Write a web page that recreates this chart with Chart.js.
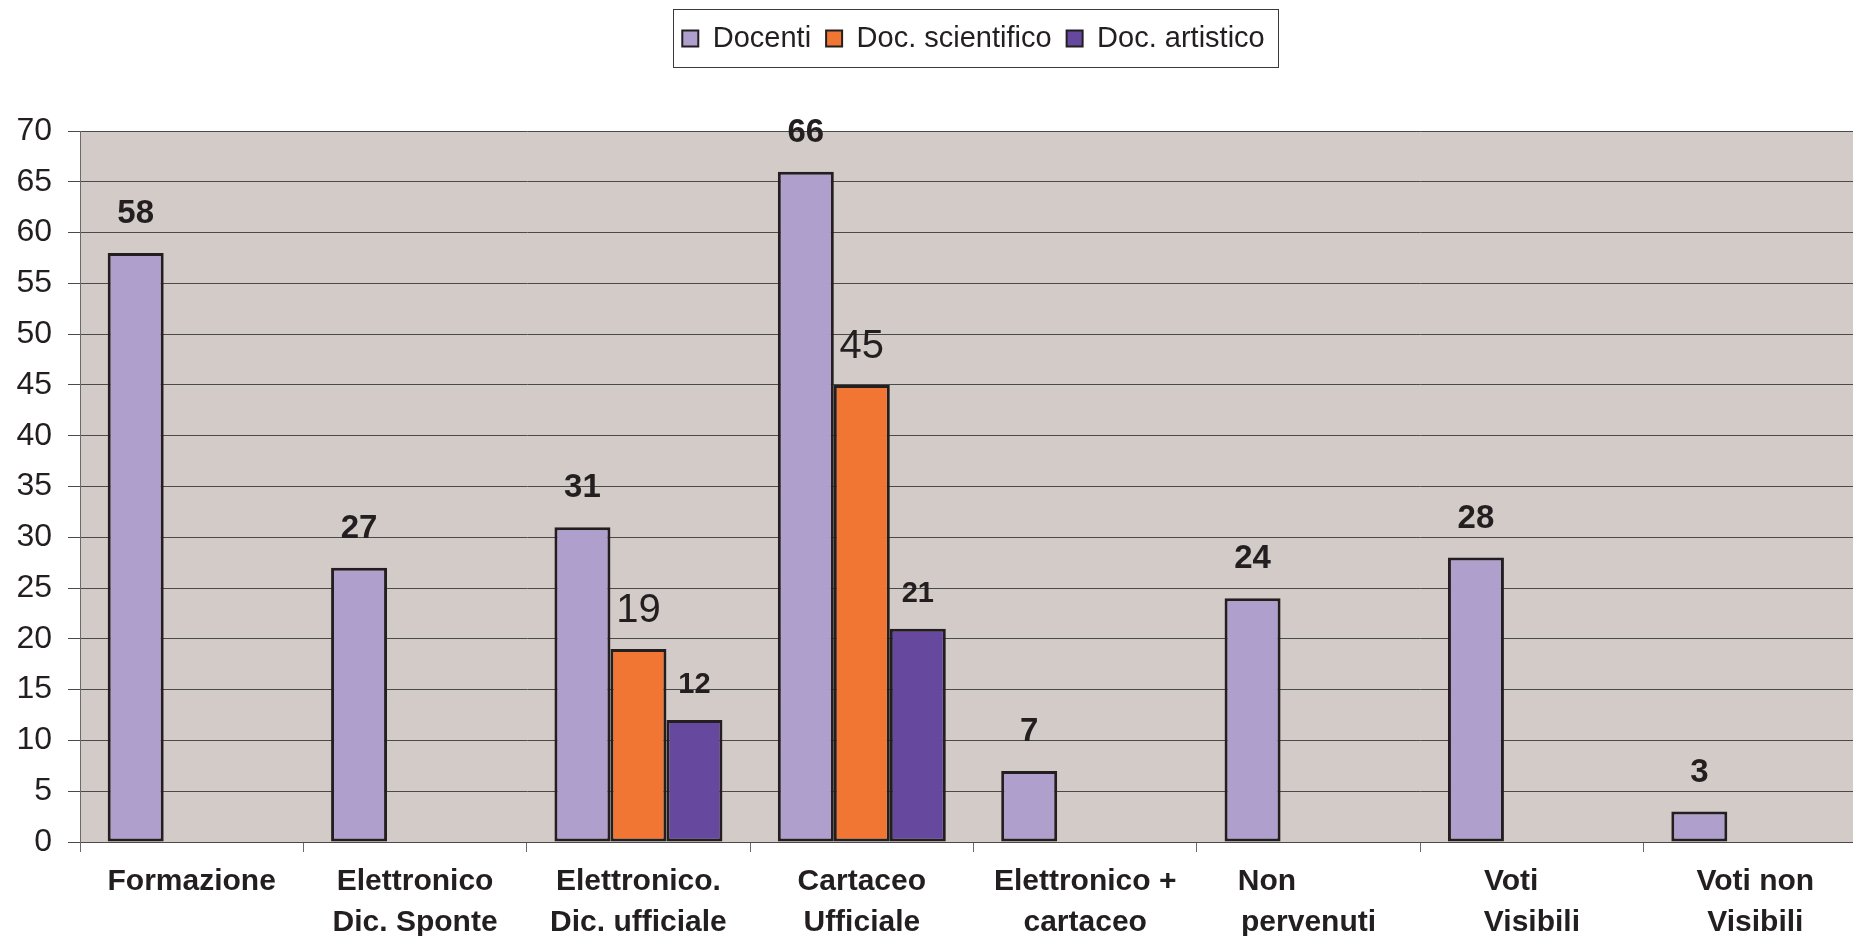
<!DOCTYPE html>
<html>
<head>
<meta charset="utf-8">
<script src="https://cdn.jsdelivr.net/npm/chart.js@4"></script>
<style>
  html, body { margin: 0; padding: 0; background: #fff; overflow: hidden; }
  #wrap { width: 1853px; height: 936px; overflow: hidden; }
</style>
</head>
<body>
<div id="wrap"><canvas id="chart" width="1870" height="936"></canvas></div>
<script>
// categorie (le etichette con spazi finali restano come nell'originale)
const categories = [
  ['Formazione'],
  ['Elettronico', 'Dic. Sponte'],
  ['Elettronico.', 'Dic. ufficiale'],
  ['Cartaceo', 'Ufficiale'],
  ['Elettronico +', 'cartaceo'],
  ['Non          ', 'pervenuti'],
  ['Voti     ', 'Visibili'],
  ['Voti non', 'Visibili']
];
const seriesNames = ['Docenti', 'Doc. scientifico', 'Doc. artistico'];
const docenti = [58, 27, 31, 66, 7, 24, 28, 3];
const docScientifico = [null, null, 19, 45, null, null, null, null];
const docArtistico = [null, null, 12, 21, null, null, null, null];
const yMin = 0, yMax = 70, yStep = 5;

const colors = ['#AF9FCC', '#F17634', '#66499E'];
// stile delle etichette sopra le barre, una per serie
const labelFonts = [
  { size: 33, weight: 'bold', offset: 39 },
  { size: 40, weight: 'normal', offset: 38 },
  { size: 29, weight: 'bold', offset: 35 }
];
const FONT = '"Liberation Sans", Arial, sans-serif';

const plotBg = {
  id: 'plotBg',
  beforeDraw(chart) {
    const { ctx, chartArea: a } = chart;
    ctx.save();
    ctx.fillStyle = '#D3CBC8';
    ctx.fillRect(a.left, a.top, a.right - a.left, a.bottom - a.top);
    ctx.restore();
  }
};

// legenda: altezza fissa e centrata sull'area del grafico
const legendFix = {
  id: 'legendFix',
  beforeInit(chart) {
    if (!chart.legend) return;
    const fit = chart.legend.fit;
    chart.legend.fit = function () {
      fit.bind(chart.legend)();
      this.height = 122;
    };
  },
  afterLayout(chart) {
    const lg = chart.legend, a = chart.chartArea;
    const dx = (a.left + a.right) / 2 - (lg.left + lg.right) / 2;
    lg.left += dx;
    lg.right += dx;
  },
  afterDraw(chart) {
    const boxes = chart.legend.legendHitBoxes;
    if (!boxes || !boxes.length) return;
    const l = Math.min(...boxes.map(b => b.left));
    const r = Math.max(...boxes.map(b => b.left + b.width));
    const t = Math.min(...boxes.map(b => b.top));
    const h = boxes[0].height;
    const ctx = chart.ctx;
    ctx.save();
    ctx.strokeStyle = '#3a3a3a';
    ctx.lineWidth = 1;
    ctx.strokeRect(Math.round(l - 9) + 0.5, Math.round(t - 15) + 0.5, Math.round(r - l + 23), Math.round(h + 29));
    ctx.restore();
  }
};

const valueLabels = {
  id: 'valueLabels',
  afterDatasetsDraw(chart) {
    const ctx = chart.ctx;
    ctx.save();
    ctx.fillStyle = '#231F20';
    ctx.textAlign = 'center';
    ctx.textBaseline = 'middle';
    chart.data.datasets.forEach((ds, i) => {
      const meta = chart.getDatasetMeta(i);
      const f = labelFonts[i];
      ctx.font = f.weight + ' ' + f.size + 'px ' + FONT;
      meta.data.forEach((bar, j) => {
        const v = ds.data[j];
        if (v === null || v === undefined) return;
        ctx.fillText(String(v), bar.x, bar.y - f.offset);
      });
    });
    ctx.restore();
  }
};

new Chart(document.getElementById('chart'), {
  type: 'bar',
  data: {
    labels: categories,
    datasets: [docenti, docScientifico, docArtistico].map((d, i) => ({
      label: seriesNames[i],
      data: d,
      backgroundColor: colors[i],
      borderColor: '#231F20',
      borderWidth: 3,
      borderSkipped: false,
      barPercentage: 1,
      categoryPercentage: 0.752
    }))
  },
  options: {
    responsive: false,
    animation: false,
    layout: { padding: { top: 9, right: 3, left: 0, bottom: 0 } },
    plugins: {
      tooltip: { enabled: false },
      legend: {
        position: 'top',
        labels: {
          color: '#231F20',
          font: { family: FONT, size: 29 },
          boxWidth: 16,
          boxHeight: 16,
          padding: 15,
          generateLabels(chart) {
            return Chart.defaults.plugins.legend.labels.generateLabels(chart)
              .map(it => Object.assign(it, { lineWidth: 2 }));
          }
        }
      }
    },
    scales: {
      x: {
        grid: {
          drawOnChartArea: false,
          drawTicks: true,
          tickLength: 10,
          color: '#6a6a6a',
          offset: true
        },
        border: { color: '#4a4a4a', width: 1 },
        ticks: {
          color: '#231F20',
          font: { family: FONT, size: 30, weight: 'bold', lineHeight: 1.37 },
          padding: 9,
          autoSkip: false,
          maxRotation: 0,
          minRotation: 0
        },
        afterFit(scale) { scale.height = 94; }
      },
      y: {
        min: yMin,
        max: yMax,
        grid: { color: '#4a4a4a', lineWidth: 1, tickLength: 12 },
        border: { color: '#6a6a6a', width: 1 },
        ticks: {
          stepSize: yStep,
          color: '#231F20',
          font: { family: FONT, size: 32 },
          padding: 16
        },
        afterFit(scale) { scale.width = 80; }
      }
    }
  },
  plugins: [plotBg, legendFix, valueLabels]
});
</script>
</body>
</html>
